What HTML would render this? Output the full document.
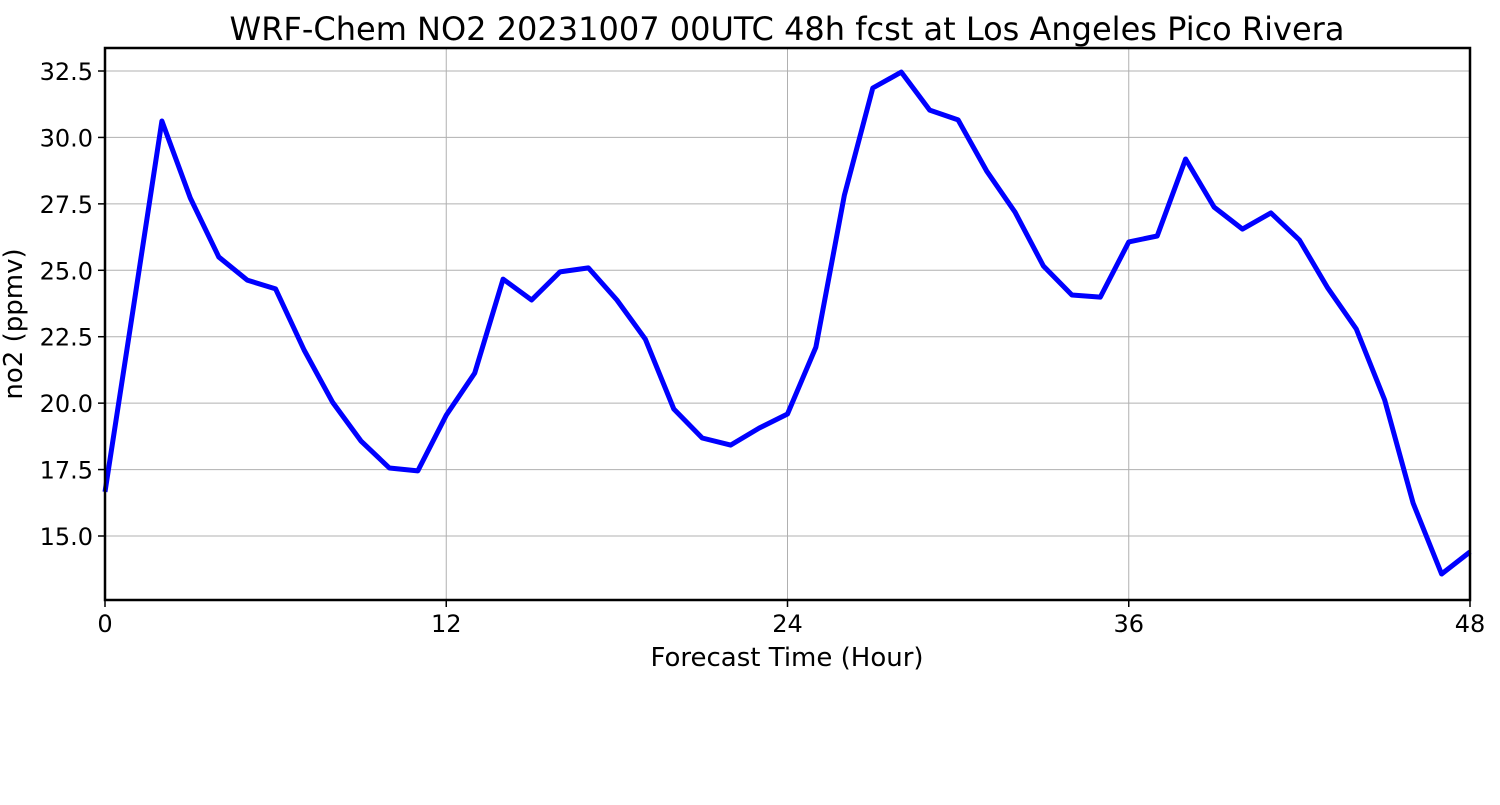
<!DOCTYPE html>
<html><head><meta charset="utf-8"><style>
body{margin:0;background:#fff;}
svg text{font-family:"DejaVu Sans","Liberation Sans",sans-serif;fill:#000;}
</style></head><body>
<svg width="1500" height="800">
<g id="grid"></g>
<g id="ticks"></g>
<path id="line" fill="none" stroke="#0000ff" stroke-width="5" stroke-linejoin="round"/>
<rect x="105" y="48" width="1365" height="552" fill="none" stroke="#000" stroke-width="2.5"/>
<text x="787" y="40" font-size="32" text-anchor="middle">WRF-Chem NO2  20231007 00UTC 48h fcst at Los Angeles Pico Rivera</text>
<text x="787" y="666" font-size="26" text-anchor="middle">Forecast Time (Hour)</text>
<text transform="translate(22,324) rotate(-90)" font-size="26" text-anchor="middle">no2  (ppmv)</text>
</svg>
<script>
const hours=[0,1,2,3,4,5,6,7,8,9,10,11,12,13,14,15,16,17,18,19,20,21,22,23,24,25,26,27,28,29,30,31,32,33,34,35,36,37,38,39,40,41,42,43,44,45,46,47,48];
const no2=[16.66,23.6,30.62,27.72,25.50,24.63,24.30,22.0,20.04,18.58,17.56,17.45,19.55,21.13,24.67,23.88,24.94,25.09,23.88,22.41,19.78,18.69,18.42,19.06,19.59,22.11,27.83,31.86,32.46,31.03,30.66,28.74,27.19,25.16,24.07,23.99,26.07,26.29,29.19,27.38,26.55,27.16,26.14,24.33,22.79,20.12,16.24,13.57,14.40];
const xTicks=[0,12,24,36,48];
const yTicks=[15.0,17.5,20.0,22.5,25.0,27.5,30.0,32.5];
const X=h=>105+(h/48)*1365;
const Y=v=>536-(v-15)*26.571;
const NS="http://www.w3.org/2000/svg";
const grid=document.getElementById('grid'),ticks=document.getElementById('ticks');
function mk(tag,attrs,parent){const e=document.createElementNS(NS,tag);for(const k in attrs)e.setAttribute(k,attrs[k]);parent.appendChild(e);return e;}
xTicks.forEach(t=>{
  const g=mk('line',{x1:X(t),x2:X(t),y1:48,y2:600,stroke:'#b0b0b0','stroke-width':1},grid);
  
  
  const tk=mk('line',{x1:X(t),x2:X(t),y1:600,y2:607,stroke:'#000','stroke-width':1.5},ticks);
  
  
  const tx=mk('text',{x:X(t),y:632,'font-size':24,'text-anchor':'middle'},ticks);
  tx.textContent=t;
  
  
});
yTicks.forEach(t=>{
  const g=mk('line',{x1:105,x2:1470,y1:Y(t),y2:Y(t),stroke:'#b0b0b0','stroke-width':1},grid);
  
  
  const tk=mk('line',{x1:98,x2:105,y1:Y(t),y2:Y(t),stroke:'#000','stroke-width':1.5},ticks);
  
  
  const tx=mk('text',{x:93,y:Y(t)+9,'font-size':24,'text-anchor':'end'},ticks);
  tx.textContent=t.toFixed(1);
  
  
});
document.getElementById('line').setAttribute('d',hours.map((h,i)=>(i?'L':'M')+X(h).toFixed(1)+','+Y(no2[i]).toFixed(1)).join(' '));
</script>
</body></html>
